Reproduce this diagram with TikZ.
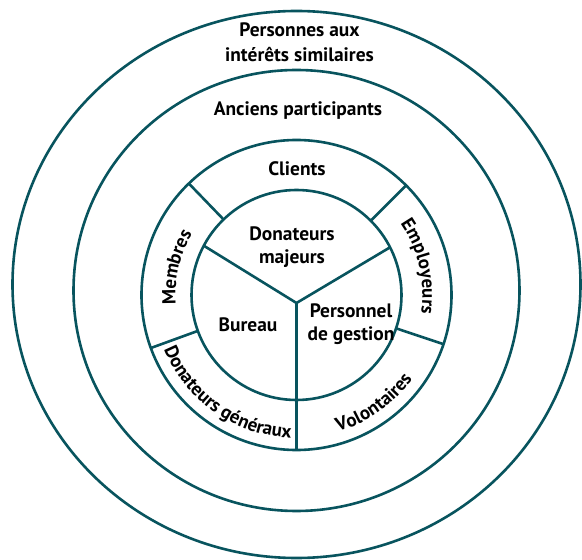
\documentclass[tikz,border=0pt]{standalone}
\usepackage{fontspec}
\setmainfont{PT Sans}
\usetikzlibrary{decorations.text}
\definecolor{ringteal}{RGB}{8,84,94}
\newcommand\arcfont{\bfseries\fontsize{19}{22}\selectfont}
\begin{document}
\begin{tikzpicture}[x=1bp,y=1bp,
  ring/.style={draw=ringteal, line width=2.6bp, line join=round},
  lbl/.style={font=\bfseries\fontsize{19.5}{23.5}\selectfont, text=black, align=center, inner sep=0pt},
  arclbl/.style={decorate, decoration={text along path, text align=center, text color=black, text={|\arcfont|#1}}},
]
\useasboundingbox (-296.5,-265) rectangle (285.5,295);
\fill[white] (-296.5,-265) rectangle (285.5,295);

% concentric rings
\draw[ring] (0,10.5) ellipse [x radius=284, y radius=273.5];
\draw[ring] (0,4.5) ellipse [x radius=223, y radius=220.5];
\draw[ring] (0,0) circle [radius=155];
\draw[ring] (0,0) circle [radius=105];

% three spokes of the inner disc
\coordinate (hub) at (0,-8);
\coordinate (spokeL) at (152:105);
\coordinate (spokeR) at (27:105);
\coordinate (spokeB) at (0,-155);
\draw[ring] (spokeL) -- (hub) -- (spokeR);
\draw[ring] (hub) -- (spokeB);

% dividers of the segmented ring
\foreach \a/\n in {134/nw, 45/ne, 200/sw, 341.5/se}{
  \coordinate (in-\n) at (\a:105);
  \coordinate (out-\n) at (\a:155);
  \draw[ring] (in-\n) -- (out-\n);
}

% straight labels
\node[lbl, font=\bfseries\fontsize{19.5}{25}\selectfont] (personnes) at (3,252.5) {Personnes aux\\intérêts similaires};
\node[lbl] (anciens) at (1.5,184) {Anciens participants};
\node[lbl] (clients) at (0.5,126) {Clients};
\node[lbl] (majeurs) at (-4.5,48) {Donateurs\\majeurs};
\node[lbl] (bureau) at (-48.5,-30) {Bureau};
\node[lbl, font=\bfseries\fontsize{19.5}{22.5}\selectfont] (gestion) at (54.5,-29) {Personnel\\de gestion};

% labels set along the ring
\path[arclbl=Membres] (222:121) arc[start angle=222, end angle=112, radius=121];
\path[arclbl=Employeurs] (68:126) arc[start angle=68, end angle=-42, radius=126];
\path[arclbl={Donateurs généraux}] (180:143) arc[start angle=180, end angle=290, radius=143];
\path[arclbl=Volontaires] (250:143) arc[start angle=250, end angle=361, radius=143];
\end{tikzpicture}
\end{document}
